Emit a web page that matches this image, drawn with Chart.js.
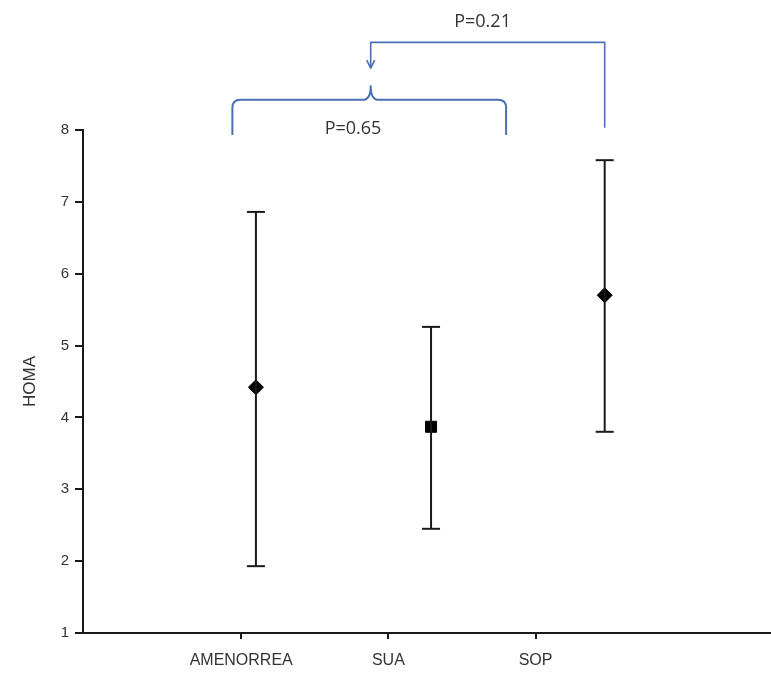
<!DOCTYPE html>
<html>
<head>
<meta charset="utf-8">
<script src="https://cdn.jsdelivr.net/npm/chart.js@4/dist/chart.umd.min.js"></script>
<style>
  html, body { margin: 0; padding: 0; background: #fff; overflow: hidden; }
  #wrap { position: relative; width: 771px; height: 677px; }
  #homaChart { display: block; }
</style>
</head>
<body>
<div id="wrap"><canvas id="homaChart"></canvas></div>
<script>
// HOMA by group — mean with error bars, p-value brackets above
var categories = ['AMENORREA', 'SUA', 'SOP'];
var tickPositions = [1, 2, 3];
var pointX = [1.10, 2.29, 3.47];
var meanValues = [4.42, 3.87, 5.70];
var upperValues = [6.86, 5.26, 7.58];
var lowerValues = [1.93, 2.45, 3.80];
var markerStyles = ['rectRot', 'rect', 'rectRot'];
var markerSizes = [7.5, 7.8, 7.5];
var yTicks = [1, 2, 3, 4, 5, 6, 7, 8];

// brackets, in data units (x on the group axis, y on the HOMA axis)
var bracketLow = { left: 0.94, right: 2.80, mid: 1.88, foot: 7.93, bar: 8.42, peak: 8.61, label: 'P=0.65', labelX: 1.76, labelY: 8.02 };
var bracketHigh = { from: 1.88, to: 3.47, top: 9.22, tip: 8.86, foot: 8.03, label: 'P=0.21', labelX: 2.64, labelY: 9.51 };

var ink = '#1a1a1a';
var blue = '#4a6fb5';

(function () {
    'use strict';

    var datasets = [];

    // error bars: one two-point line per group, caps from the 'line' point style
    categories.forEach(function (name, i) {
        datasets.push({
            type: 'line',
            data: [{ x: pointX[i], y: lowerValues[i] }, { x: pointX[i], y: upperValues[i] }],
            borderColor: ink,
            borderWidth: 2,
            pointStyle: 'line',
            pointRadius: 9,
            pointBorderWidth: 2,
            pointBorderColor: ink,
            fill: false
        });
    });

    // mean markers
    datasets.push({
        type: 'scatter',
        data: categories.map(function (name, i) { return { x: pointX[i], y: meanValues[i] }; }),
        pointStyle: markerStyles,
        pointRadius: markerSizes,
        backgroundColor: '#000',
        borderColor: '#000',
        borderWidth: 1
    });

    var bracketPlugin = {
        id: 'brackets',
        afterDraw: function (chart) {
            var ctx = chart.ctx;
            var xs = chart.scales.x, ys = chart.scales.y;
            var px = function (v) { return xs.getPixelForValue(v); };
            var py = function (v) { return ys.getPixelForValue(v); };
            var r = 8;

            ctx.save();
            ctx.strokeStyle = blue;
            ctx.lineWidth = 2;
            ctx.lineJoin = 'round';

            // curly bracket AMENORREA–SUA
            var b = bracketLow;
            var yBar = py(b.bar), yFoot = py(b.foot), yPeak = py(b.peak);
            var xl = px(b.left), xr = px(b.right), xm = px(b.mid);
            ctx.beginPath();
            ctx.moveTo(xl, yFoot);
            ctx.lineTo(xl, yBar + r);
            ctx.quadraticCurveTo(xl, yBar, xl + r, yBar);
            ctx.lineTo(xm - r, yBar);
            ctx.quadraticCurveTo(xm, yBar, xm, yPeak);
            ctx.quadraticCurveTo(xm, yBar, xm + r, yBar);
            ctx.lineTo(xr - r, yBar);
            ctx.quadraticCurveTo(xr, yBar, xr, yBar + r);
            ctx.lineTo(xr, yFoot);
            ctx.stroke();

            // elbow connector from SOP to the bracket, with arrow
            var h = bracketHigh;
            var xa = px(h.from), xb = px(h.to);
            var yTop = py(h.top), yTip = py(h.tip);
            ctx.lineWidth = 1.6;
            ctx.beginPath();
            ctx.moveTo(xb, py(h.foot));
            ctx.lineTo(xb, yTop);
            ctx.lineTo(xa, yTop);
            ctx.lineTo(xa, yTip);
            ctx.stroke();
            ctx.beginPath();
            ctx.moveTo(xa - 4, yTip - 8);
            ctx.lineTo(xa, yTip);
            ctx.lineTo(xa + 4, yTip - 8);
            ctx.stroke();

            ctx.fillStyle = '#333';
            ctx.font = '18px "Open Sans", "Liberation Sans", sans-serif';
            ctx.textAlign = 'center';
            ctx.textBaseline = 'middle';
            ctx.fillText(b.label, px(b.labelX), py(b.labelY));
            ctx.fillText(h.label, px(h.labelX), py(h.labelY));
            ctx.restore();
        }
    };

    new Chart(document.getElementById('homaChart').getContext('2d'), {
        type: 'scatter',
        data: { datasets: datasets },
        plugins: [bracketPlugin],
        options: {
            responsive: true,
            maintainAspectRatio: false,
            animation: false,
            layout: { autoPadding: false, padding: { top: 130, right: 0, left: 0, bottom: 0 } },
            scales: {
                x: {
                    type: 'linear',
                    min: -0.075,
                    max: 4.6,
                    afterBuildTicks: function (s) {
                        s.ticks = tickPositions.map(function (v) { return { value: v }; });
                    },
                    afterFit: function (s) {
                        s.height = 44;
                        s.paddingLeft = 0;
                        s.paddingRight = 0;
                    },
                    grid: { drawOnChartArea: false, tickLength: 6, color: ink, lineWidth: 2 },
                    border: { display: true, color: ink, width: 2 },
                    ticks: {
                        color: '#333',
                        padding: 12,
                        autoSkip: false,
                        maxRotation: 0,
                        font: { family: '"Liberation Sans", Arial, sans-serif', size: 16 },
                        callback: function (v) { return categories[tickPositions.indexOf(v)]; }
                    }
                },
                y: {
                    min: 1,
                    max: 8,
                    afterBuildTicks: function (s) {
                        s.ticks = yTicks.map(function (v) { return { value: v }; });
                    },
                    afterFit: function (s) { s.width = 83; },
                    grid: { drawOnChartArea: false, tickLength: 8, color: ink, lineWidth: 2 },
                    border: { display: true, color: ink, width: 2 },
                    title: {
                        display: true,
                        text: 'HOMA',
                        color: '#333',
                        padding: { top: 20, bottom: 0 },
                        font: { family: '"Liberation Sans", Arial, sans-serif', size: 17 }
                    },
                    ticks: {
                        color: '#333',
                        padding: 6,
                        font: { family: '"Liberation Sans", Arial, sans-serif', size: 15 }
                    }
                }
            },
            plugins: {
                legend: { display: false },
                tooltip: { enabled: false }
            }
        }
    });
})();
</script>
</body>
</html>
